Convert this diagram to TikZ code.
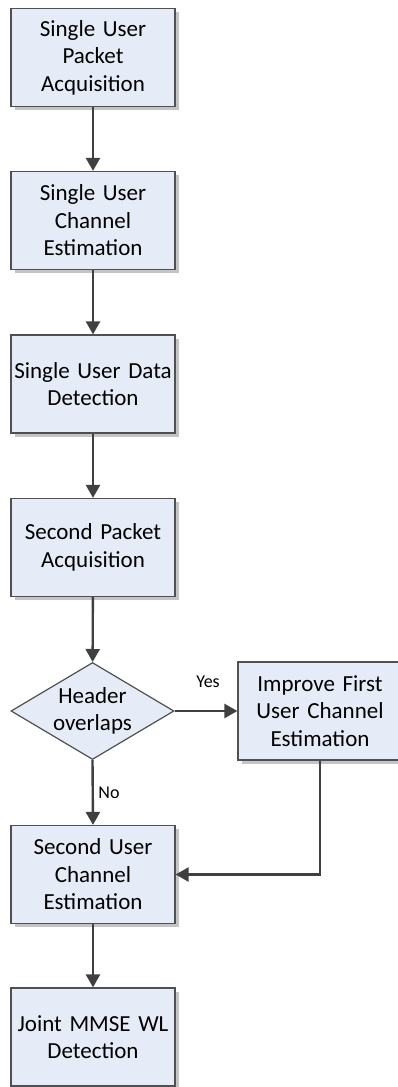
\documentclass[tikz,border=0pt]{standalone}
\usepackage{fontspec}
\setmainfont{Carlito}
\usetikzlibrary{arrows.meta,shapes.geometric,shadows}

\definecolor{boxfill}{HTML}{E6ECF7}
\definecolor{boxline}{HTML}{505050}
\definecolor{arrowcol}{HTML}{404040}
\definecolor{shadecol}{HTML}{C4C4C4}

\tikzset{
  procbox/.style={draw=boxline, line width=1.2pt, fill=boxfill,
    minimum width=164pt, minimum height=98pt, inner sep=2pt,
    text width=160pt, align=center,
    font=\fontsize{23}{27.5}\selectfont,
    drop shadow={shadow xshift=3.5pt, shadow yshift=-3.5pt, fill=shadecol, opacity=1}},
  decision/.style={diamond, draw=boxline, line width=1.2pt, fill=boxfill,
    minimum width=163pt, minimum height=97pt, inner sep=0pt, aspect=1.68,
    align=center, font=\fontsize{23}{27.5}\selectfont},
  flow/.style={draw=arrowcol, line width=2.4pt,
    -{Triangle[length=13pt,width=14pt]}},
  lbl/.style={font=\fontsize{18}{20}\selectfont, inner sep=0pt}
}

\begin{document}
\begin{tikzpicture}[x=1pt,y=1pt]
  \useasboundingbox (0,0) rectangle (398,-1087);

  \node[procbox] (acq1) at (93,-57.5) {Single User\\Packet\\Acquisition};
  \node[procbox] (est1) at (93,-220.5) {Single User\\Channel\\Estimation};
  \node[procbox] (det1) at (93,-384) {Single User Data\\Detection};
  \node[procbox] (acq2) at (93,-547.5) {Second Packet\\Acquisition};
  \node[decision] (hdr) at (92.5,-711) {Header\\overlaps};
  \node[procbox] (imp) at (320,-711) {Improve First\\User Channel\\Estimation};
  \node[procbox] (est2) at (93,-874.5) {Second User\\Channel\\Estimation};
  \node[procbox] (joint) at (93,-1037) {Joint MMSE WL\\Detection};

  \draw[flow] (acq1) -- (est1);
  \draw[flow] (est1) -- (det1);
  \draw[flow] (det1) -- (acq2);
  \draw[flow] (acq2) -- (hdr);
  \draw[flow] (hdr.east) -- (imp.west);
  \draw[flow] (hdr.south) -- (est2.north);
  \draw[flow] (imp.south) |- (est2.east);
  \draw[flow] (est2) -- (joint);

  \node[lbl] (yes) at (208,-682) {Yes};
  \node[lbl] (no) at (109,-793) {No};
\end{tikzpicture}
\end{document}
